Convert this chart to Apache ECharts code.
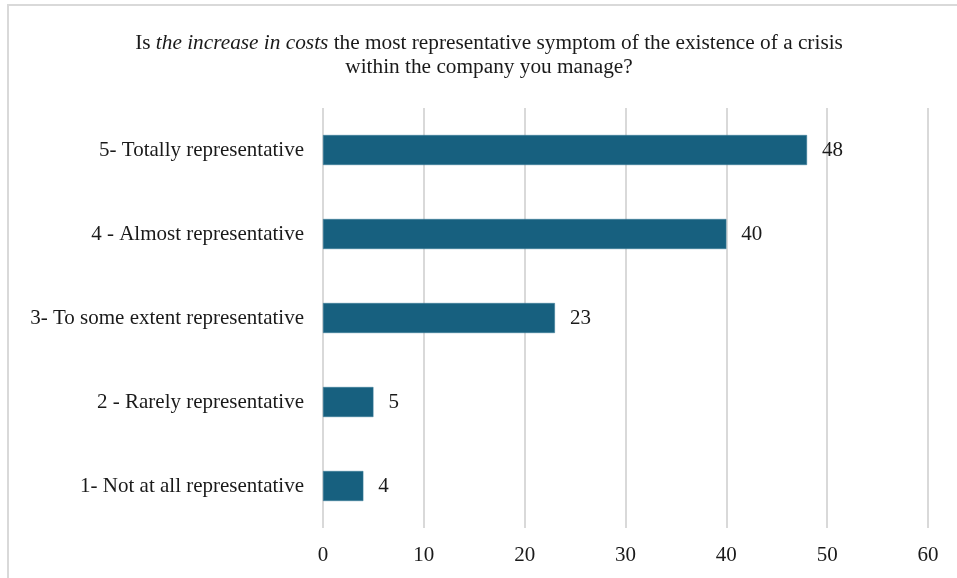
<!DOCTYPE html>
<html>
<head>
<meta charset="utf-8">
<script src="https://cdn.jsdelivr.net/npm/echarts@6/dist/echarts.min.js"></script>
<style>
  html, body { margin: 0; padding: 0; background: #fff; }
  #chart { width: 957px; height: 578px; }
</style>
</head>
<body>
<div id="chart"></div>
<script>
// Survey answers, listed bottom to top as drawn on the category axis
const categories = [
  '1- Not at all representative',
  '2 - Rarely representative',
  '3- To some extent representative',
  '4 - Almost representative',
  '5- Totally representative'
];
const counts = [4, 5, 23, 40, 48];
const xTicks = [0, 10, 20, 30, 40, 50, 60];

const serif = '"Liberation Serif", "Times New Roman", serif';
const textColor = '#1a1a1a';
const fs = 21;
const chart = echarts.init(document.getElementById('chart'), null, { renderer: 'canvas' });

chart.setOption({
  animation: false,
  backgroundColor: '#ffffff',
  graphic: [{
    type: 'rect',
    shape: { x: 8, y: 5, width: 1000, height: 700 },
    style: { fill: 'none', stroke: '#d9d9d9', lineWidth: 2 },
    silent: true
  }],
  title: {
    left: 484,
    top: 26,
    textAlign: 'center',
    text: '{n|Is }{i|the increase in costs}{n| the most representative symptom of the existence of a crisis}\n{n|within the company you manage?}',
    textStyle: {
      fontWeight: 'normal',
      rich: {
        n: { fontFamily: serif, fontSize: 21.3, fontWeight: 'normal', color: textColor, lineHeight: 24 },
        i: { fontFamily: serif, fontSize: 21.3, fontWeight: 'normal', fontStyle: 'italic', color: textColor, lineHeight: 24 }
      }
    }
  },
  grid: { left: 323, right: 29, top: 108, bottom: 50, containLabel: false },
  xAxis: {
    type: 'value',
    min: xTicks[0],
    max: xTicks[xTicks.length - 1],
    interval: 10,
    axisLine: { show: false },
    axisTick: { show: false },
    splitLine: { show: true, lineStyle: { color: '#d9d9d9', width: 2 } },
    axisLabel: { fontFamily: serif, fontSize: fs, color: textColor, margin: 17 }
  },
  yAxis: {
    type: 'category',
    data: categories,
    axisLine: { show: false },
    axisTick: { show: false },
    axisLabel: { fontFamily: serif, fontSize: fs, color: textColor, margin: 19 }
  },
  series: [{
    type: 'bar',
    data: counts,
    barWidth: 30,
    itemStyle: { color: '#17607f', borderColor: '#3b7d99', borderWidth: 0.5 },
    label: {
      show: true,
      position: 'right',
      distance: 15,
      fontFamily: serif,
      fontSize: fs,
      color: textColor
    }
  }]
});
</script>
</body>
</html>
